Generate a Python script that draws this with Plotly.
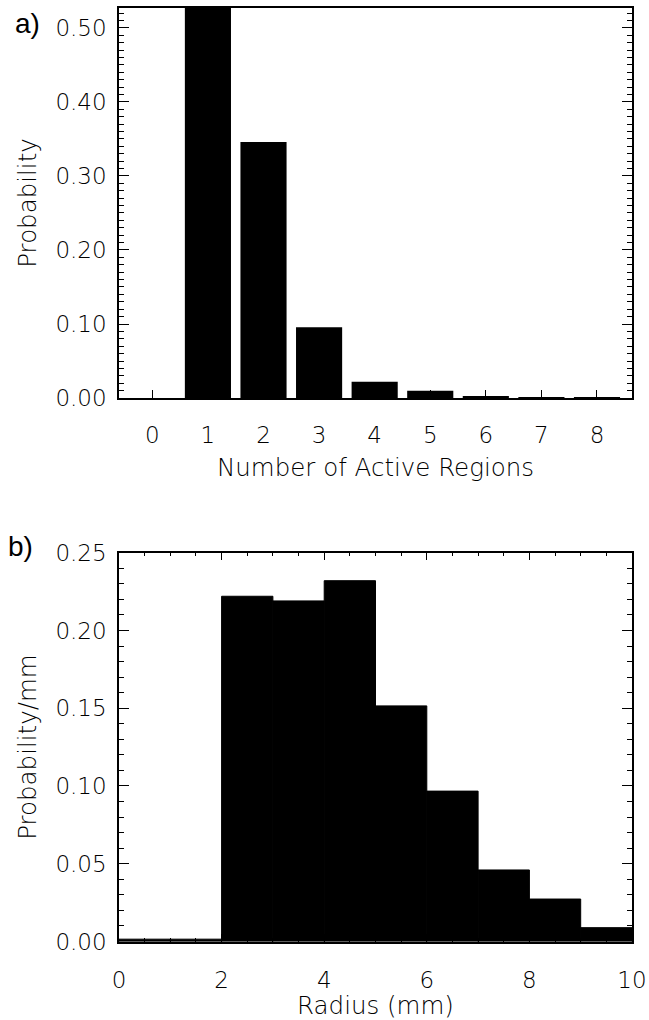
import plotly.graph_objects as go

# Panel a: number of active regions
regions = [1, 2, 3, 4, 5, 6, 7, 8]
prob_regions = [0.56, 0.346, 0.0955, 0.022, 0.0099, 0.0015, 0.001, 0.001]

# Panel b: radius histogram (bin centres, 1 mm bins)
radius_centres = [0.5, 1.5, 2.5, 3.5, 4.5, 5.5, 6.5, 7.5, 8.5, 9.5]
prob_radius = [0.0015, 0.0015, 0.222, 0.219, 0.232, 0.1515, 0.0967, 0.046, 0.0273, 0.0089]

x_ticks_a = [0, 1, 2, 3, 4, 5, 6, 7, 8]

W, H = 649, 1020
FONT = "DejaVu Sans"
FS = 23

fig = go.Figure()
fig.add_trace(go.Bar(x=regions, y=prob_regions, width=0.83,
                     marker=dict(color="black", line=dict(width=0)),
                     xaxis="x", yaxis="y", showlegend=False))
fig.add_trace(go.Bar(x=radius_centres, y=prob_radius, width=1.0,
                     marker=dict(color="black", line=dict(width=1, color="black")),
                     xaxis="x2", yaxis="y2", showlegend=False))

xdom = [119 / W, 632 / W]
ydom_a = [1 - 398 / H, 1 - 8 / H]
ydom_b = [1 - 941.5 / H, 1 - 552.7 / H]

tfont = dict(family=FONT, size=FS, color="black", weight=200)
titlefont = dict(family=FONT, size=24.5, color="black", weight=200)

axis_common = dict(showline=True, linecolor="black", linewidth=1.5, ticks="inside", tickcolor="black",
                   tickwidth=1.2, showgrid=False, zeroline=False, automargin=False,
                   tickfont=tfont)

fig.update_layout(
    width=W, height=H, margin=dict(l=0, r=0, t=0, b=0, autoexpand=False),
    paper_bgcolor="white", plot_bgcolor="white",
    font=dict(family=FONT, color="black"),
    xaxis=dict(domain=xdom, anchor="y", range=[-0.6, 8.63], tickmode="array",
               tickvals=x_ticks_a, ticklen=8, mirror=True,
               ticklabelstandoff=16,
               title=dict(text="Number of Active Regions", font=titlefont, standoff=12),
               **axis_common),
    yaxis=dict(domain=ydom_a, anchor="x", range=[0, 0.527], dtick=0.1, tick0=0, tickformat=".2f",
               ticklen=10, mirror="ticks", ticklabelstandoff=6,
               minor=dict(dtick=0.01, ticks="inside", ticklen=5, tickcolor="black", tickwidth=1),
               title=dict(text="Probability", font=titlefont, standoff=12),
               **axis_common),
    xaxis2=dict(domain=xdom, anchor="y2", range=[0, 10], dtick=2, tick0=0, ticklen=8, mirror="ticks",
                ticklabelstandoff=17,
                minor=dict(dtick=0.5, ticks="inside", ticklen=4, tickcolor="black", tickwidth=1),
                title=dict(text="Radius (mm)", font=titlefont, standoff=6),
                **axis_common),
    yaxis2=dict(domain=ydom_b, anchor="x2", range=[0, 0.25], dtick=0.05, tick0=0, tickformat=".2f",
                ticklen=10, mirror="ticks", ticklabelstandoff=6,
                minor=dict(dtick=0.01, ticks="inside", ticklen=5, tickcolor="black", tickwidth=1),
                title=dict(text="Probability/mm", font=titlefont, standoff=12),
                **axis_common),
    annotations=[
        dict(text="a)", x=13 / W, y=1 - 23 / H, xref="paper", yref="paper", xanchor="left", yanchor="middle",
             showarrow=False, font=dict(family="Liberation Sans", size=28, color="black")),
        dict(text="b)", x=6 / W, y=1 - 546 / H, xref="paper", yref="paper", xanchor="left", yanchor="middle",
             showarrow=False, font=dict(family="Liberation Sans", size=28, color="black")),
    ],
)

fig.write_html("out.html")
